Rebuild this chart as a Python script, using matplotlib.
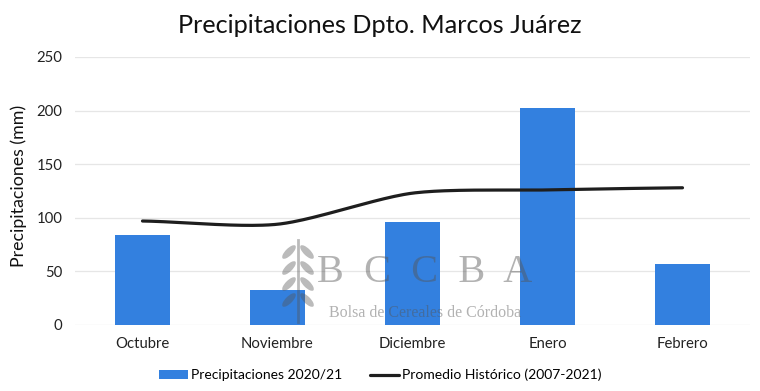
import numpy as np
import matplotlib
matplotlib.use("Agg")
import matplotlib.pyplot as plt
from matplotlib.patches import Ellipse

plt.rcParams['font.family'] = ['Lato', 'DejaVu Sans']

meses = ['Octubre', 'Noviembre', 'Diciembre', 'Enero', 'Febrero']
precip_2020_21 = [84, 33, 96, 202, 57]
promedio_hist = [97, 94, 123, 126, 128]
yticks = [0, 50, 100, 150, 200, 250]


def smooth(xs, ys, n=40):
    # catmull-rom style smoothing like the spreadsheet's smoothed line
    xs = np.asarray(xs, float)
    ys = np.asarray(ys, float)
    px = np.concatenate([[2 * xs[0] - xs[1]], xs, [2 * xs[-1] - xs[-2]]])
    py = np.concatenate([[ys[0]], ys, [ys[-1]]])
    out_x, out_y = [], []
    for i in range(1, len(px) - 2):
        t = np.linspace(0, 1, n)
        p0, p1, p2, p3 = [np.array([px[j], py[j]]) for j in range(i - 1, i + 3)]
        m1 = (p2 - p0) / 2 * 0.8
        m2 = (p3 - p1) / 2 * 0.8
        h00 = 2 * t**3 - 3 * t**2 + 1
        h10 = t**3 - 2 * t**2 + t
        h01 = -2 * t**3 + 3 * t**2
        h11 = t**3 - t**2
        pts = np.outer(h00, p1) + np.outer(h10, m1) + np.outer(h01, p2) + np.outer(h11, m2)
        out_x.extend(pts[:, 0])
        out_y.extend(pts[:, 1])
    return out_x, out_y


fig = plt.figure(figsize=(7.6, 3.91), dpi=100)
ax = fig.add_axes([75 / 760, 1 - 325 / 391, 675 / 760, 268 / 391])

x = np.arange(len(meses))
ax.bar(x, precip_2020_21, width=0.41, color='#3380DF', label='Precipitaciones 2020/21', zorder=2)
sx, sy = smooth(x, promedio_hist)
ax.plot(sx, sy, color='#1e1e1e', lw=2.3, label='Promedio Histórico (2007-2021)', zorder=3,
        solid_capstyle='round')

ax.set_xlim(-0.5, len(meses) - 0.5)
ax.set_ylim(0, 250)
ax.set_yticks(yticks)
ax.set_xticks(x)
ax.set_xticklabels(meses)
ax.tick_params(length=0, labelsize=10.7, colors='#222222', pad=9)
ax.tick_params(axis='y', pad=9)
for s in ax.spines.values():
    s.set_visible(False)
ax.grid(axis='y', color='#e6e6e6', lw=0.9, zorder=0)
ax.set_axisbelow(True)
ax.set_ylabel('Precipitaciones (mm)', fontsize=12.8, color='#111111')
ax.yaxis.set_label_coords(-48 / 675, 0.52)

fig.text(0.5, 0.935, 'Precipitaciones Dpto. Marcos Juárez', ha='center', va='center',
         fontsize=18.2, color='#111111')

# watermark (logo approximation)
wm = fig.add_axes([0, 0, 1, 1], facecolor='none')
wm.set_xlim(0, 760)
wm.set_ylim(391, 0)
wm.axis('off')
wm.plot([298, 298], [240, 322], color='#555555', alpha=0.4, lw=2)
for yy in [252, 268, 284, 300]:
    wm.add_patch(Ellipse((289, yy), 18, 7, angle=-45, color='#555555', alpha=0.4, lw=0))
    wm.add_patch(Ellipse((307, yy), 18, 7, angle=45, color='#555555', alpha=0.4, lw=0))
wm.text(425, 272, 'B  C  C  B  A', ha='center', va='center',
        fontsize=29, family=['Liberation Serif', 'DejaVu Serif'], color='#555555', alpha=0.45)
wm.text(425, 313, 'Bolsa de Cereales de Córdoba', ha='center', va='center',
        fontsize=11.5, family=['Liberation Serif', 'DejaVu Serif'], color='#555555', alpha=0.45)

h, l = ax.get_legend_handles_labels()
fig.legend(h[::-1], l[::-1], loc='center', bbox_to_anchor=(0.5, 1 - 375 / 391), ncol=2, frameon=False,
           fontsize=10, handlelength=2.1, handleheight=0.55, handletextpad=0.2, columnspacing=2.0)

fig.savefig('out.png', dpi=100)
